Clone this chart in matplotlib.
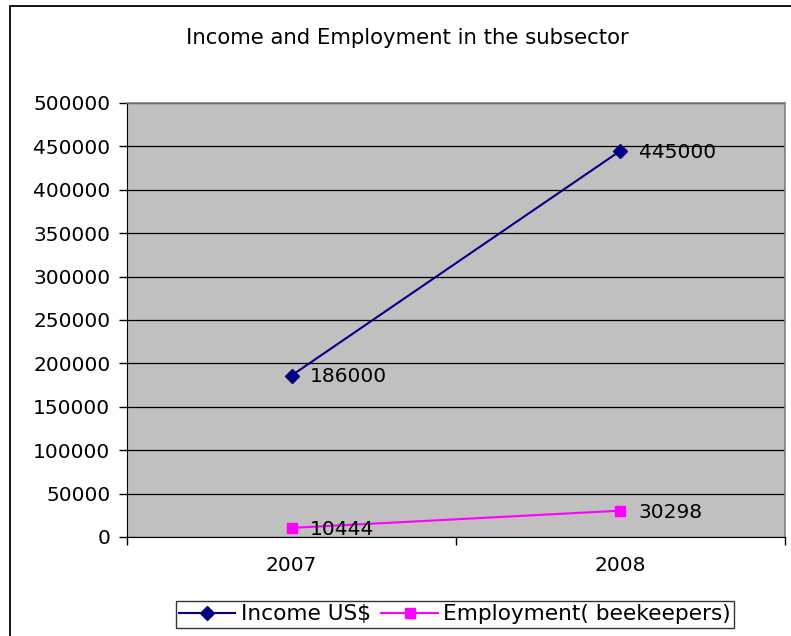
import matplotlib
matplotlib.use("Agg")

import matplotlib.pyplot as plt
from matplotlib.patches import Rectangle


years = ["2007", "2008"]
income = [186000, 445000]
employment = [10444, 30298]

title = "Income and Employment in the subsector"
income_label = "Income US$"
employment_label = "Employment( beekeepers)"

FS = 14.5      # numbers
FS_TXT = 15.3  # title / legend (Verdana-like text runs wider)

fig = plt.figure(figsize=(7.91, 6.36), dpi=100)
ax = fig.add_axes([0.1606, 0.1557, 0.8318, 0.6824])

# outer chart border (cut off at right and bottom like the reference)
fig.patches.append(Rectangle((10 / 791, -0.1), 1.2, 1.1 - 6 / 636,
                             transform=fig.transFigure, fill=False,
                             edgecolor="black", linewidth=1.3, zorder=10))

ax.set_facecolor("#C0C0C0")
x = [0, 1]
ax.plot(x, income, color="#000080", marker="D", markersize=7, linewidth=1.5,
        label=income_label, zorder=3)
ax.plot(x, employment, color="#FF00FF", marker="s", markersize=7, linewidth=1.5,
        label=employment_label, zorder=3)

for xi, v in zip(x, income):
    ax.annotate(str(v), (xi, v), xytext=(13, -1), textcoords="offset points",
                va="center", ha="left", fontsize=FS, color="black", zorder=4)
for xi, v in zip(x, employment):
    ax.annotate(str(v), (xi, v), xytext=(13, -1), textcoords="offset points",
                va="center", ha="left", fontsize=FS, color="black", zorder=4)

ax.set_xlim(-0.5, 1.5)
ax.set_ylim(0, 500000)
ax.set_yticks(range(0, 500001, 50000))
ax.set_yticklabels([str(v) for v in range(0, 500001, 50000)], fontsize=FS)
ax.yaxis.grid(True, color="black", linewidth=0.9)
ax.set_axisbelow(True)

ax.set_xticks([-0.5, 0.5, 1.5])
ax.set_xticklabels([])
ax.set_xticks(x, minor=True)
ax.set_xticklabels(years, minor=True, fontsize=FS)
ax.tick_params(axis="x", which="minor", length=0, pad=14)
ax.tick_params(axis="x", which="major", length=6, width=1, direction="out")
ax.tick_params(axis="y", length=6, width=1, direction="out", pad=6)

for side in ["top", "right"]:
    ax.spines[side].set_color("#808080")
    ax.spines[side].set_linewidth(1.2)
ax.spines["left"].set_color("black")
ax.spines["bottom"].set_color("black")

fig.text(0.515, 0.94, title, ha="center", va="center", fontsize=FS_TXT)

leg = fig.legend(loc="upper center", bbox_to_anchor=(0.575, 0.055), ncol=2,
                 fontsize=15.6, frameon=True, fancybox=False, handlelength=2.6,
                 borderpad=0.15, columnspacing=0.5, handletextpad=0.25,
                 borderaxespad=0)
leg.get_frame().set_edgecolor("black")
leg.get_frame().set_linewidth(1.0)

fig.savefig("out.png", dpi=100)
